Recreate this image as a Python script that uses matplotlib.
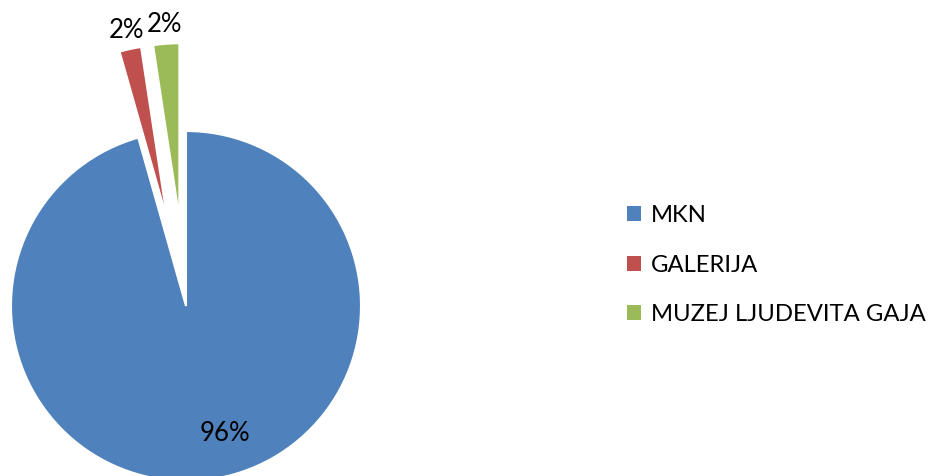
# pie chart of visitors per museum

import matplotlib.pyplot as plt

# data
labels = ['MKN', 'GALERIJA', 'MUZEJ LJUDEVITA GAJA']
values = [95.6, 2.0, 2.4]
colors = ['#4F81BD', '#C0504D', '#9BBB59']

plt.rcParams['font.family'] = ['Lato', 'DejaVu Sans']

fig = plt.figure(figsize=(9.32, 4.76), dpi=100)
ax = fig.add_axes([0, 0, 1, 1])

radius = 175
wedges, texts, autotexts = ax.pie(
    values, colors=colors, startangle=90, counterclock=False,
    explode=[0, 88, 88], radius=radius, center=(186, 170),
    autopct='%1.0f%%', pctdistance=0.75,
    wedgeprops=dict(edgecolor='white', linewidth=1.5),
    textprops=dict(fontsize=18.5, color='black'))

# pie resets the limits, so set pixel-like limits afterwards
ax.set_xlim(0, 932)
ax.set_ylim(0, 476)
ax.set_aspect('equal')
ax.axis('off')

# small slices have labels outside, just beyond the tip
for i in (1, 2):
    t = autotexts[i]
    x, y = t.get_position()
    cx, cy = wedges[i].center
    t.set_position((cx + (x - cx) * 1.11 / 0.75, cy + (y - cy) * 1.11 / 0.75))
# big label sits a bit to the right in the original
x, y = autotexts[0].get_position()
autotexts[0].set_position((x + 21, y + 2))

leg = fig.legend(wedges, labels, loc='center left', bbox_to_anchor=(627 / 932, 0.443),
                 frameon=False, fontsize=17.2, handlelength=0.6, handleheight=0.6,
                 handletextpad=0.4, labelspacing=1.2, borderpad=0, borderaxespad=0)
for h in leg.legend_handles:
    h.set_linewidth(0)

plt.savefig('out.png', dpi=100)
